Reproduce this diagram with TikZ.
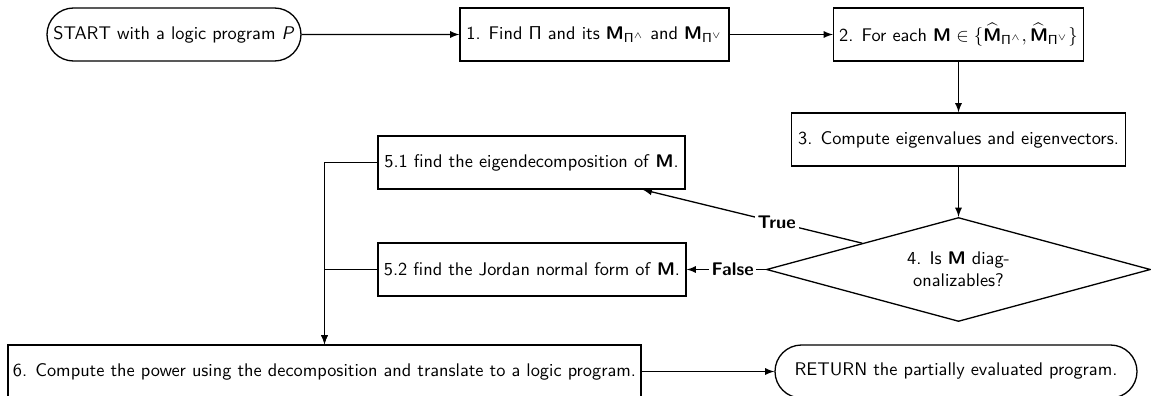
\documentclass[tikz,border=0pt]{standalone}
\usepackage{amsmath}
\usetikzlibrary{shapes.geometric,shapes.misc,arrows}
\newlength{\pxu}
\setlength{\pxu}{0.535pt}
% bold sans matrix symbol
\newcommand{\bM}{\mbox{\bfseries\sffamily M}}
\begin{document}
\begin{tikzpicture}[x=\pxu, y=-\pxu, font=\fontsize{9.8}{11.8}\selectfont\sffamily,
  box/.style={draw, rectangle, line width=0.7pt, minimum height=53\pxu, inner sep=0pt},
  term/.style={draw, rounded rectangle, line width=0.7pt, minimum height=53\pxu, inner sep=0pt},
  decision/.style={draw, diamond, aspect=3.7, line width=0.7pt, minimum width=384\pxu,
    minimum height=104\pxu, inner sep=0pt, align=center},
  flow/.style={-latex, line width=0.7pt},
  tag/.style={fill=white, font=\fontsize{9.8}{11.8}\selectfont\sffamily\bfseries, inner sep=1.5pt}]
\useasboundingbox (0,0) rectangle (1151,396);

\node[term, minimum width=254\pxu] (start) at (174,34.5) {START with a logic program \textit{P}};
\node[box, minimum width=269\pxu] (b1) at (594.5,34.5)
  {1. Find $\mathsf{\Pi}$ and its $\bM_{\mathsf{\Pi}^{\wedge}}$ and $\bM_{\mathsf{\Pi}^{\vee}}$};
\node[box, minimum width=250\pxu] (b2) at (958.5,34.5)
  {2. For each $\bM \in \{\widehat{\bM}_{\mathsf{\Pi}^{\wedge}}, \widehat{\bM}_{\mathsf{\Pi}^{\vee}}\}$};
\node[box, minimum width=334\pxu] (b3) at (958.5,139.5) {3. Compute eigenvalues and eigenvectors.};
\node[decision] (d4) at (958.5,269.5) {4. Is \textbf{M} diag-\\onalizables?};
\node[box, minimum width=307\pxu] (b51) at (531.5,162.5) {5.1 find the eigendecomposition of \textbf{M}.};
\node[box, minimum width=308\pxu] (b52) at (532,269.5) {5.2 find the Jordan normal form of \textbf{M}.};
\node[box, minimum width=633\pxu] (b6) at (324.5,371.5)
  {6. Compute the power using the decomposition and translate to a logic program.};
\node[term, minimum width=362\pxu] (ret) at (956,371.5) {RETURN the partially evaluated program.};

\draw[flow] (start) -- (b1);
\draw[flow] (b1) -- (b2);
\draw[flow] (b2) -- (b3);
\draw[flow] (b3) -- (d4);
\draw[flow] (d4.north west) -- node[tag, pos=0.39] {True} (b51);
\draw[flow] (d4.west) -- node[tag, pos=0.42] {False} (b52);
\draw[flow] (b51.west) -| (b6.north);
\draw[flow] (b52.west) -| (b6.north);
\draw[flow] (b6) -- (ret);
\end{tikzpicture}
\end{document}
